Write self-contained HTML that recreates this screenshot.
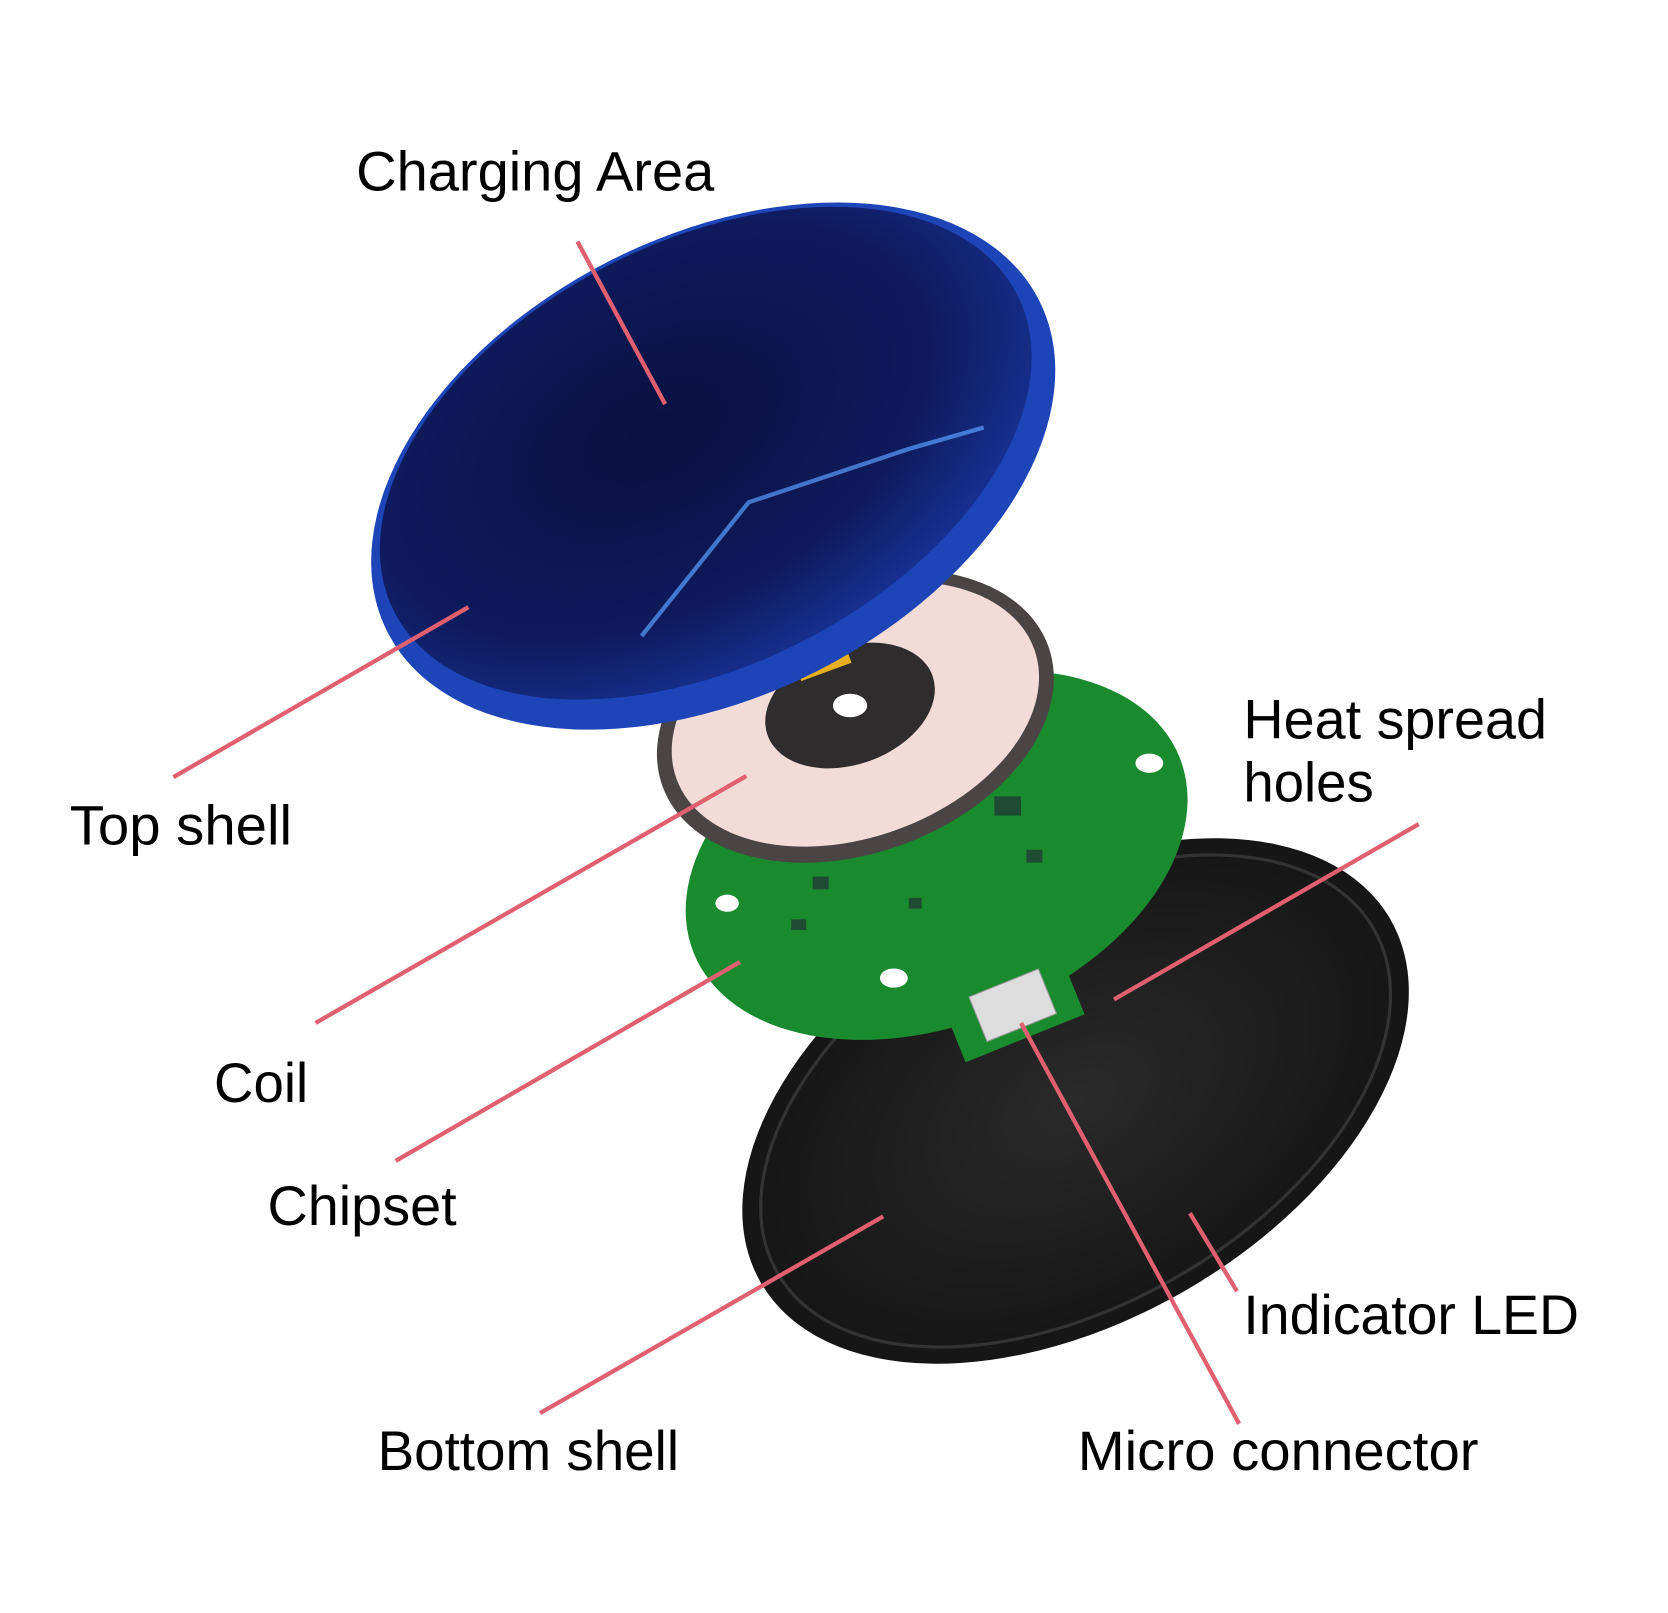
<!DOCTYPE html>
<html><head><meta charset="utf-8"><style>
html,body{margin:0;padding:0;background:#fff;}
svg{display:block;}
text{font-family:"Liberation Sans",Arial,sans-serif;font-size:52px;fill:#000;}
</style></head><body>
<svg width="1668" height="1613" viewBox="0 0 1560 1509" xmlns="http://www.w3.org/2000/svg">
<defs>
<radialGradient id="top" cx="0.45" cy="0.4" r="0.7">
<stop offset="0" stop-color="#0a1040"/><stop offset="0.6" stop-color="#0e1a5c"/><stop offset="1" stop-color="#1a3aa8"/>
</radialGradient>
<radialGradient id="bot" cx="0.5" cy="0.5" r="0.6">
<stop offset="0" stop-color="#2a2a2a"/><stop offset="1" stop-color="#111"/>
</radialGradient>
</defs>
<rect width="1560" height="1509" fill="#fff"/>
<ellipse cx="1006" cy="1030" rx="340" ry="205" transform="rotate(-30 1006 1030)" fill="url(#bot)"/>
<ellipse cx="1006" cy="1030" rx="322" ry="190" transform="rotate(-30 1006 1030)" fill="none" stroke="#333" stroke-width="3"/>
<ellipse cx="876" cy="800" rx="245" ry="158" transform="rotate(-22 876 800)" fill="#1a8a2e"/>
<rect x="880" y="880" width="120" height="95" fill="#1a8a2e" transform="rotate(-22 940 925)"/>
<rect x="912" y="918" width="70" height="45" fill="#ddd" stroke="#999" transform="rotate(-22 947 940)"/>
<ellipse cx="680" cy="845" rx="11" ry="8" fill="#fff"/>
<ellipse cx="836" cy="915" rx="13" ry="9" fill="#fff"/>
<ellipse cx="1075" cy="714" rx="13" ry="9" fill="#fff"/>
<g fill="#223" opacity="0.6">
<rect x="930" y="745" width="25" height="18"/><rect x="760" y="820" width="15" height="12"/><rect x="850" y="840" width="12" height="10"/><rect x="960" y="795" width="15" height="12"/><rect x="740" y="860" width="14" height="10"/>
</g>
<ellipse cx="800" cy="670" rx="192" ry="128" transform="rotate(-20 800 670)" fill="#4a4444"/>
<ellipse cx="800" cy="668" rx="178" ry="115" transform="rotate(-20 800 668)" fill="#f3dcd8"/>
<ellipse cx="795" cy="660" rx="82" ry="55" transform="rotate(-20 795 660)" fill="#2e2c2c"/>
<ellipse cx="795" cy="660" rx="16" ry="11" fill="#fff"/>
<rect x="740" y="585" width="50" height="45" fill="#e8b020" transform="rotate(-20 765 607)"/>
<ellipse cx="667" cy="436" rx="342" ry="215" transform="rotate(-27 667 436)" fill="#1d45b8"/>
<ellipse cx="660" cy="424" rx="327" ry="198" transform="rotate(-27 660 424)" fill="url(#top)"/>
<path d="M600 595 L700 470 L850 420 L920 400" stroke="#5aa0ff" stroke-width="4" fill="none" opacity="0.7"/>
<g stroke="#e06070" stroke-width="4" fill="none">
<line x1="540" y1="226" x2="622" y2="378"/>
<line x1="162" y1="727" x2="438" y2="568"/>
<line x1="295" y1="957" x2="698" y2="726"/>
<line x1="370" y1="1086" x2="692" y2="900"/>
<line x1="1327" y1="771" x2="1042" y2="935"/>
<line x1="505" y1="1322" x2="826" y2="1138"/>
<line x1="1157" y1="1208" x2="1113" y2="1135"/>
<line x1="1159" y1="1332" x2="955" y2="957"/>
</g>
<text x="333" y="178" textLength="335" lengthAdjust="spacingAndGlyphs">Charging Area</text>
<text x="65" y="790" textLength="208" lengthAdjust="spacingAndGlyphs">Top shell</text>
<text x="1163" y="691" textLength="284" lengthAdjust="spacingAndGlyphs">Heat spread</text>
<text x="1163" y="750" textLength="122" lengthAdjust="spacingAndGlyphs">holes</text>
<text x="200" y="1031" textLength="88" lengthAdjust="spacingAndGlyphs">Coil</text>
<text x="250" y="1146" textLength="177" lengthAdjust="spacingAndGlyphs">Chipset</text>
<text x="1163" y="1248" textLength="314" lengthAdjust="spacingAndGlyphs">Indicator LED</text>
<text x="353" y="1375" textLength="282" lengthAdjust="spacingAndGlyphs">Bottom shell</text>
<text x="1008" y="1375" textLength="375" lengthAdjust="spacingAndGlyphs">Micro connector</text>
</svg>
</body></html>
